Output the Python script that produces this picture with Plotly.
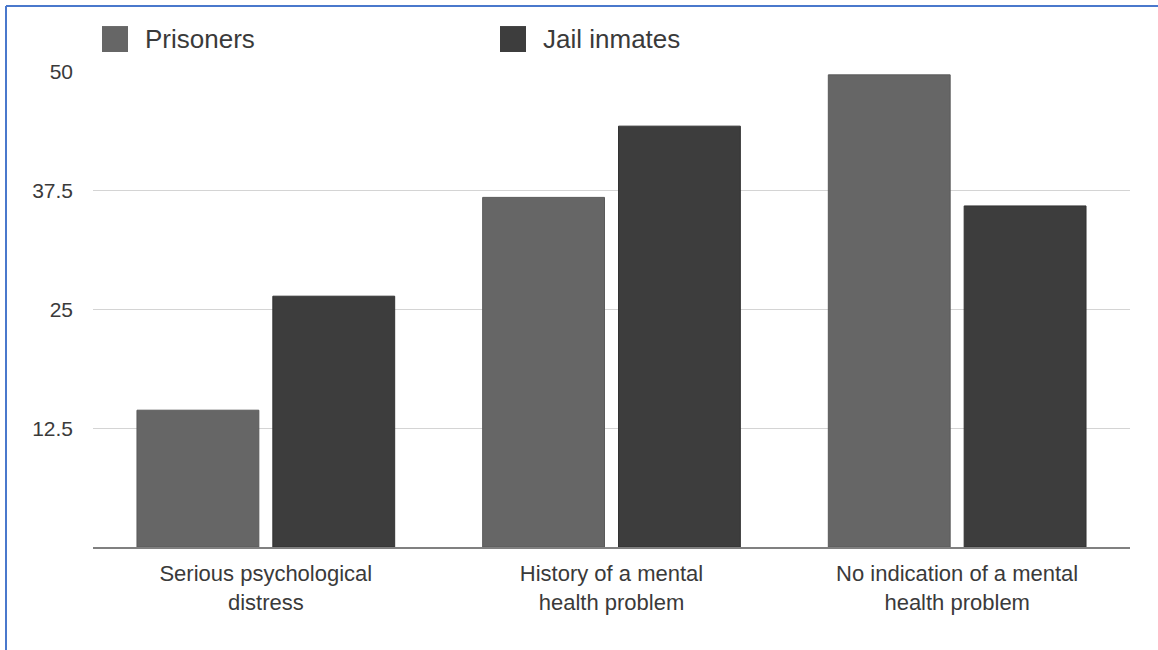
import plotly.graph_objects as go

# Share of each population by mental health status (%)
categories = [
    "Serious psychological<br>distress",
    "History of a mental<br>health problem",
    "No indication of a mental<br>health problem",
]
prisoners = [14.4, 36.8, 49.7]
jail_inmates = [26.4, 44.3, 35.9]
series_names = ["Prisoners", "Jail inmates"]
y_ticks = [12.5, 25, 37.5, 50]
y_tick_labels = ["12.5", "25", "37.5", "50"]

W, H = 1158, 650
ML, MR, MT, MB = 93, 28, 72, 102.5
PW, PH = W - ML - MR, H - MT - MB

PRISON_COLOR = "#666666"
JAIL_COLOR = "#3d3d3d"
FONT = "Liberation Sans, Arial, sans-serif"
TEXT_COLOR = "#3a3a3a"


def fx(px):
    return (px - ML) / PW


def fy(py):
    return (H - MB - py) / PH


fig = go.Figure()
fig.add_trace(go.Bar(
    x=categories, y=prisoners, name=series_names[0],
    marker=dict(color=PRISON_COLOR, line=dict(color="#5a5a5a", width=1)),
    showlegend=False,
))
fig.add_trace(go.Bar(
    x=categories, y=jail_inmates, name=series_names[1],
    marker=dict(color=JAIL_COLOR, line=dict(color="#333333", width=1)),
    showlegend=False,
))

shapes = []
annotations = []
# Legend drawn as swatches + labels across the top
legend_items = [(series_names[0], PRISON_COLOR, 102), (series_names[1], JAIL_COLOR, 500)]
for name, color, x0 in legend_items:
    shapes.append(dict(
        type="rect", xref="paper", yref="paper",
        x0=fx(x0), x1=fx(x0 + 26), y0=fy(52), y1=fy(26),
        fillcolor=color, line=dict(width=0),
    ))
    annotations.append(dict(
        text=name, xref="paper", yref="paper", x=fx(x0 + 41), y=fy(39),
        xanchor="left", yanchor="middle", showarrow=False,
        font=dict(family=FONT, size=26, color=TEXT_COLOR),
    ))

# Frame lines along the left and top edges
shapes.append(dict(type="line", xref="paper", yref="paper",
                   x0=fx(6), x1=fx(6), y0=fy(6), y1=fy(H + 2),
                   line=dict(color="#4a78cc", width=2)))
shapes.append(dict(type="line", xref="paper", yref="paper",
                   x0=fx(6), x1=fx(W + 2), y0=fy(6), y1=fy(6),
                   line=dict(color="#4a78cc", width=2)))

fig.update_layout(
    width=W, height=H,
    margin=dict(l=ML, r=MR, t=MT, b=MB, pad=0),
    paper_bgcolor="white", plot_bgcolor="white",
    barmode="group", bargap=0.214, bargroupgap=0.103,
    font=dict(family=FONT, color=TEXT_COLOR),
    shapes=shapes, annotations=annotations,
    showlegend=False,
)
fig.update_xaxes(
    showgrid=False, showline=True, linecolor="#808080", linewidth=2,
    ticks="", tickfont=dict(size=22, color=TEXT_COLOR),
    ticklabelstandoff=6,
)
fig.update_yaxes(
    range=[0, 50], tickvals=y_ticks, ticktext=y_tick_labels,
    showgrid=True, gridcolor="#d4d4d4", gridwidth=1,
    zeroline=False, showline=False, ticks="",
    tickfont=dict(size=21, color=TEXT_COLOR),
    ticklabelstandoff=19,
)

fig.write_html("out.html")
